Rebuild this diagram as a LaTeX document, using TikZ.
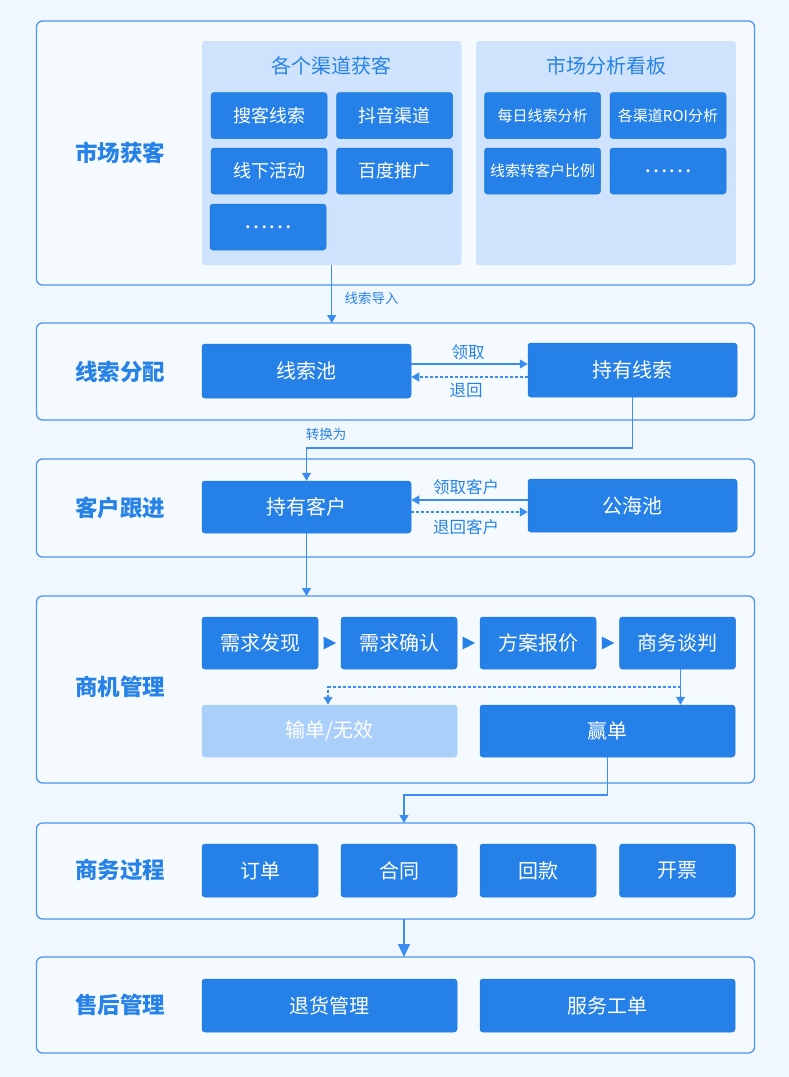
\documentclass[tikz,border=0pt]{standalone}
\usepackage{fontspec}
\newfontfamily\cjk{Noto Sans CJK SC}
\usetikzlibrary{arrows.meta,calc}
\definecolor{pagebg}{HTML}{F1F7FE}
\definecolor{panelfill}{HTML}{F5FAFF}
\definecolor{panelline}{HTML}{4A96F0}
\definecolor{boxblue}{HTML}{2581E8}
\definecolor{boxedge}{HTML}{1F76DA}
\definecolor{groupfill}{HTML}{CFE4FC}
\definecolor{lightbox}{HTML}{AAD0FA}
\definecolor{linkblue}{HTML}{3A8DF0}
\definecolor{titleblue}{HTML}{2782E8}
\newcommand{\fs}[1]{\fontsize{#1}{#1}\selectfont}
\tikzset{
  panel/.style={draw=panelline, fill=panelfill, line width=1.3pt, rounded corners=6pt},
  group/.style={fill=groupfill, rounded corners=3pt},
  box/.style={fill=boxblue, draw=boxedge, line width=0.5pt, rounded corners=3pt, text=white, inner sep=0pt, font=\cjk\fs{20}},
  lbox/.style={box, fill=lightbox, draw=lightbox},
  sect/.style={text=titleblue, font=\cjk\bfseries\fs{22.5}},
  gtitle/.style={text=titleblue, font=\cjk\fs{20}},
  link/.style={draw=linkblue, line width=1.2pt, -{Triangle[width=9pt,length=8pt]}},
  biglink/.style={draw=linkblue, line width=1.4pt, -{Triangle[width=12pt,length=13pt]}},
  dlink/.style={link, dash pattern=on 3pt off 2pt},
  llabel/.style={text=titleblue, font=\cjk\fs{16.5}},
  slabel/.style={text=titleblue, font=\cjk\fs{13.5}},
}
\begin{document}
\begin{tikzpicture}[x=1pt,y=-1pt]
\fill[pagebg] (0,0) rectangle (789,1077);
\useasboundingbox (0,0) rectangle (789,1077);

% panels
\path[panel] (36.5,21) rectangle (754.5,285);
\coordinate (p1s) at (395.5,285);
\path[panel] (36.5,323) rectangle (754.5,420);
\coordinate (p2n) at (395.5,323);
\path[panel] (36.5,459) rectangle (754.5,557);
\path[panel] (36.5,596) rectangle (754.5,783);
\coordinate (p4n) at (395.5,596);
\path[panel] (36.5,823) rectangle (754.5,919);
\coordinate (p5n) at (404,823);
\coordinate (p5s) at (404,919);
\path[panel] (36.5,957) rectangle (754.5,1053);
\coordinate (p6n) at (404,957);

% section labels
\node[sect] (s1) at (120,153) {市场获客};
\node[sect] (s2) at (120,372) {线索分配};
\node[sect] (s3) at (120,508) {客户跟进};
\node[sect] (s4) at (120,687) {商机管理};
\node[sect] (s5) at (120,870) {商务过程};
\node[sect] (s6) at (120,1005) {售后管理};

% panel 1 groups
\node[group, minimum width=259.5pt, minimum height=224pt, inner sep=0pt] (g1) at (331.75,153) {};
\node[group, minimum width=260pt, minimum height=224pt, inner sep=0pt] (g2) at (606,153) {};
\node[gtitle] (g1t) at (331.75,66) {各个渠道获客};
\node[gtitle] (g2t) at (606,66) {市场分析看板};

\tikzset{sbox/.style={box, minimum width=116pt, minimum height=46pt, font=\cjk\fs{18}}}
\node[sbox] (a1) at (269,115.5) {搜客线索};
\node[sbox] (a2) at (394.5,115.5) {抖音渠道};
\node[sbox] (a3) at (269,171) {线下活动};
\node[sbox] (a4) at (394.5,171) {百度推广};
\node[sbox, font=\cjk\fs{22}] (a5) at (268,227) {……};
\node[sbox, font=\cjk\fs{15}] (b1) at (542.5,115.5) {每日线索分析};
\node[sbox, font=\cjk\fs{15}] (b2) at (668,115.5) {各渠道ROI分析};
\node[sbox, font=\cjk\fs{15}] (b3) at (542.5,171) {线索转客户比例};
\node[sbox, font=\cjk\fs{22}] (b4) at (668,171) {……};

% import arrow
\draw[link] (g1.south) -- (g1.south |- p2n);
\node[slabel, anchor=west] (l0) at (341,298) {线索导入};

% panel 2
\tikzset{wbox/.style={box, minimum width=209pt, minimum height=54pt}}
\node[wbox] (pool) at (306.5,371) {线索池};
\node[wbox] (hold) at (632.5,370) {持有线索};
\draw[link] ([yshift=7pt]pool.east) -- ([yshift=7pt]pool.east -| hold.west);
\draw[dlink] ([yshift=-6pt]pool.east -| hold.west) -- ([yshift=-6pt]pool.east);
\node[llabel] (l1) at (468,352) {领取};
\node[llabel] (l2) at (466,391) {退回};

% panel 3
\node[wbox, minimum height=52pt] (cust) at (306.5,507) {持有客户};
\node[wbox, minimum height=53pt] (sea) at (632.5,505.5) {公海池};
\coordinate (t1) at (500,448);
\draw[link] (hold.south) |- (t1 -| cust.north) -- (cust.north);
\node[slabel] (l3) at (326,434) {转换为};
\draw[link] ([yshift=7pt]cust.east -| sea.west) -- ([yshift=7pt]cust.east);
\draw[dlink] ([yshift=-5pt]cust.east) -- ([yshift=-5pt]cust.east -| sea.west);
\node[llabel] (l4) at (466,487) {领取客户};
\node[llabel] (l5) at (466,527) {退回客户};
\draw[link] (cust.south) -- (cust.south |- p4n);

% panel 4
\tikzset{qbox/.style={box, minimum width=116pt, minimum height=52pt}}
\node[qbox] (q1) at (260,643) {需求发现};
\node[qbox] (q2) at (399,643) {需求确认};
\node[qbox] (q3) at (538,643) {方案报价};
\node[qbox] (q4) at (677.5,643) {商务谈判};
\foreach \u/\v in {q1/q2,q2/q3,q3/q4}{
  \fill[boxblue] ($(\u.east)!0.5!(\v.west)$) ++(-6,-6.5) -- ++(12.5,6.5) -- ++(-12.5,6.5) -- cycle;
}
\node[lbox, minimum width=255pt, minimum height=52pt] (lose) at (329.5,731) {输单/无效};
\node[box, minimum width=255pt, minimum height=52pt] (win) at (607.5,731) {赢单};
\draw[link] ([xshift=3pt]q4.south) -- ([xshift=3pt]q4.south |- win.north);
\coordinate (t2) at (500,687);
\draw[dlink] ([xshift=3pt]q4.south |- t2) -| ([xshift=-1.5pt]lose.north);
\coordinate (t3) at (500,795);
\draw[link] (win.south) |- (t3 -| p5n) -- (p5n);

% panel 5
\tikzset{obox/.style={box, minimum width=116pt, minimum height=53pt}}
\node[obox] (o1) at (260,870.5) {订单};
\node[obox] (o2) at (399,870.5) {合同};
\node[obox] (o3) at (538,870.5) {回款};
\node[obox] (o4) at (677.5,870.5) {开票};
\draw[biglink] (p5s) -- (p6n);

% panel 6
\node[box, minimum width=255pt, minimum height=53pt] (r1) at (329.5,1005.5) {退货管理};
\node[box, minimum width=255pt, minimum height=53pt] (r2) at (607.5,1005.5) {服务工单};
\end{tikzpicture}
\end{document}
